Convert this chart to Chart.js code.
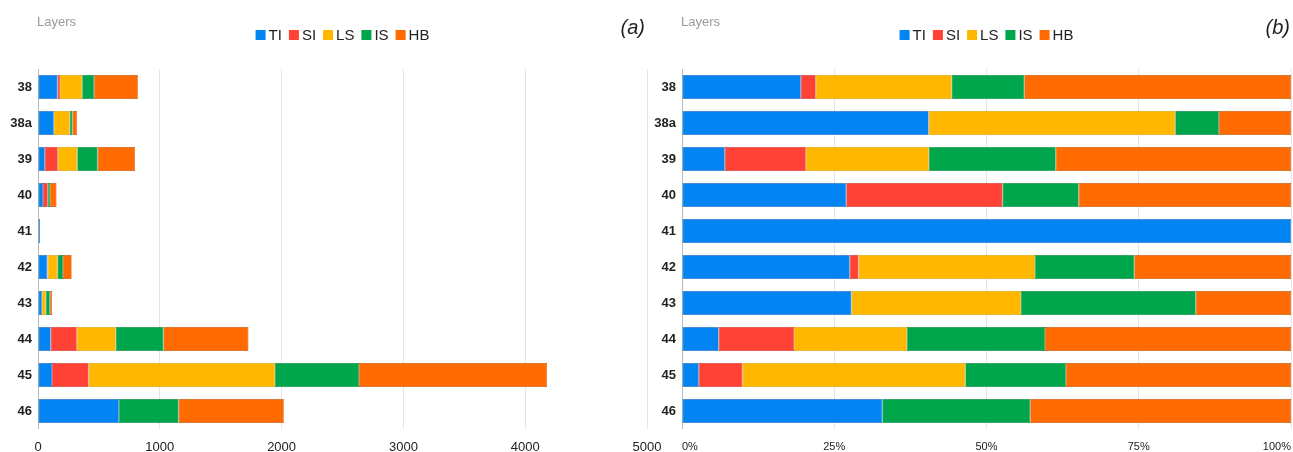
<!DOCTYPE html>
<html>
<head>
<meta charset="utf-8">
<title>Layers</title>
<script src="https://cdn.jsdelivr.net/npm/chart.js@4.4.1/dist/chart.umd.min.js"></script>
<style>
    body { margin: 0; background: #fff; }
    #wrap { position: relative; width: 1293px; height: 452px; overflow: hidden; }
    #chartA { position: absolute; left: 0; top: 0; }
    #chartB { position: absolute; left: 640px; top: 0; }
</style>
</head>
<body>
<div id="wrap">
    <canvas id="chartA" width="670" height="452"></canvas>
    <canvas id="chartB" width="653" height="452"></canvas>
</div>
<script>
// layers (categories) and the amount of each type per layer
var layers = ["38", "38a", "39", "40", "41", "42", "43", "44", "45", "46"];
var seriesNames = ["TI", "SI", "LS", "IS", "HB"];
var TI = [160, 130, 56, 41, 16, 76, 32, 104, 115, 664];
var SI = [20, 0, 106, 39, 0, 4, 0, 214, 300, 0];
var LS = [183, 130, 161, 0, 0, 80, 32, 320, 1530, 0];
var IS = [98, 23, 166, 19, 0, 45, 33, 392, 690, 490];
var HB = [359, 38, 308, 53, 0, 71, 18, 698, 1545, 864];
var countTicks = [0, 1000, 2000, 3000, 4000, 5000];
var percentTicks = [0, 25, 50, 75, 100];

var colors = ["#0284f2", "#ff4136", "#ffb700", "#00a64c", "#ff6b00"];
var edges = ["#2a6fb8", "#c9372e", "#e0a200", "#0a8a44", "#c65200"];
var allSeries = [TI, SI, LS, IS, HB];

var FONT = "'Liberation Sans', Arial, sans-serif";

// totals per layer, used for the percentage chart
var totals = layers.map(function (l, i) {
    return allSeries.reduce(function (s, arr) { return s + arr[i]; }, 0);
});

function makeDatasets(percent) {
    return seriesNames.map(function (name, k) {
        return {
            label: name,
            data: allSeries[k].map(function (v, i) { return percent ? v / totals[i] * 100 : v; }),
            backgroundColor: colors[k],
            borderColor: edges[k],
            borderWidth: 0.6,
            borderSkipped: false,
            barPercentage: 0.66,
            categoryPercentage: 1,
        };
    });
}

// "Layers" caption, centred legend and the panel tag
var panelText = {
    id: "panelText",
    afterDraw: function (chart, args, opts) {
        var ctx = chart.ctx;
        var area = chart.chartArea;
        ctx.save();
        ctx.textBaseline = "middle";
        ctx.textAlign = "left";
        ctx.font = "13px " + FONT;
        ctx.fillStyle = "#9a9a9a";
        ctx.fillText("Layers", area.left - 1, 22);

        ctx.font = "15px " + FONT;
        var box = 10, gap = 3, sep = 7;
        var widths = seriesNames.map(function (n) { return box + gap + ctx.measureText(n).width; });
        var total = widths.reduce(function (a, b) { return a + b; }, 0) + sep * (widths.length - 1);
        var x = (area.left + area.right) / 2 - total / 2;
        var y = 35;
        seriesNames.forEach(function (n, k) {
            ctx.fillStyle = colors[k];
            ctx.fillRect(x, y - box / 2, box, box);
            ctx.fillStyle = "#222";
            ctx.fillText(n, x + box + gap, y + 1);
            x += widths[k] + sep;
        });

        ctx.font = "italic 20px " + FONT;
        ctx.textAlign = "right";
        ctx.fillStyle = "#222";
        ctx.fillText(opts.tag, opts.tagX, 28);
        ctx.restore();
    },
};

function gridColor(c) {
    return c.index === 0 ? "#b8b8b8" : "#e4e4e4";
}

function makeOptions(percent, padRight, yWidth, tag, tagX) {
    return {
        responsive: false,
        animation: false,
        indexAxis: "y",
        layout: { padding: { top: 69, right: padRight, bottom: 0, left: 0 } },
        plugins: {
            legend: { display: false },
            tooltip: { enabled: false },
            panelText: { tag: tag, tagX: tagX },
        },
        scales: {
            x: {
                stacked: true,
                min: 0,
                max: percent ? 100 : 5000,
                afterBuildTicks: function (scale) {
                    scale.ticks = (percent ? percentTicks : countTicks).map(function (v) { return { value: v }; });
                },
                afterFit: function (scale) { scale.height = 23; },
                grid: { color: gridColor, drawTicks: true, tickLength: 9, tickColor: "rgba(0,0,0,0)" },
                border: { display: false },
                ticks: {
                    padding: 2,
                    color: "#222",
                    maxRotation: 0,
                    align: percent ? "inner" : "center",
                    font: { family: FONT, size: percent ? 11 : 13 },
                    callback: function (v) { return percent ? v + "%" : v; },
                },
            },
            y: {
                stacked: true,
                afterFit: function (scale) { scale.width = yWidth; },
                grid: { display: false, drawTicks: false },
                border: { display: false },
                ticks: {
                    padding: 6,
                    color: "#222",
                    font: { family: FONT, size: 13, weight: "bold" },
                },
            },
        },
    };
}

new Chart(document.getElementById("chartA").getContext("2d"), {
    type: "bar",
    data: { labels: layers, datasets: makeDatasets(false) },
    options: makeOptions(false, 23, 38, "(a)", 645),
    plugins: [panelText],
});

new Chart(document.getElementById("chartB").getContext("2d"), {
    type: "bar",
    data: { labels: layers, datasets: makeDatasets(true) },
    options: makeOptions(true, 2, 42, "(b)", 650),
    plugins: [panelText],
});
</script>
</body>
</html>
